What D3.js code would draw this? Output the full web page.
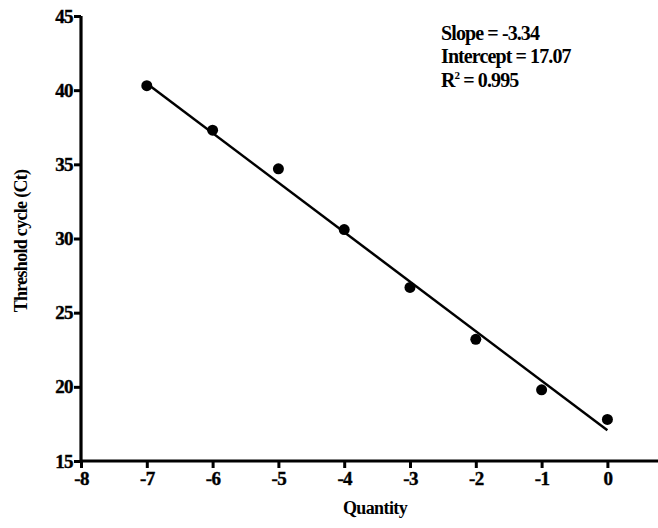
<!DOCTYPE html>
<html><head><meta charset="utf-8">
<script src="https://cdn.jsdelivr.net/npm/d3@7"></script>
<style>body{margin:0;background:#fff}svg{display:block}text{font-family:"Liberation Serif","Times New Roman",serif;font-weight:bold;fill:#000}</style>
</head><body>
<script>
const quantity = [-7, -6, -5, -4, -3, -2, -1, 0];
const ct = [40.3, 37.3, 34.7, 30.6, 26.7, 23.2, 19.8, 17.8];
const xTicks = [-8, -7, -6, -5, -4, -3, -2, -1, 0];
const yTicks = [15, 20, 25, 30, 35, 40, 45];
const slope = -3.34, intercept = 17.07, r2 = 0.995;
const fitRange = [-7, 0];

const W = 658, H = 528;
const svg = d3.select("body").append("svg").attr("width", W).attr("height", H);
const x = d3.scaleLinear().domain([-8, 1]).range([81, 81 + 9 * 65.8]);
const y = d3.scaleLinear().domain([15, 45]).range([461, 16]);

const gx = svg.append("g").attr("transform", `translate(0,${y(15)})`)
  .call(d3.axisBottom(x).tickValues(xTicks).tickFormat(d => String(d)).tickSize(7).tickPadding(4));
const gy = svg.append("g").attr("transform", `translate(${x(-8)},0)`)
  .call(d3.axisLeft(y).tickValues(yTicks).tickFormat(d => String(d)).tickSize(7).tickPadding(1));
[gx, gy].forEach(g => {
  g.select(".domain").attr("stroke", "#000").attr("stroke-width", 3.2);
  g.selectAll(".tick line").attr("stroke", "#000").attr("stroke-width", 3);
  g.selectAll(".tick text").style("font-size", "19px").style("font-weight", "bold")
    .style("letter-spacing", "-0.6px").style("stroke", "#000").style("stroke-width", "0.4px");
});
gx.select(".domain").attr("d", `M${x(-8)},0H${W}`);
gy.select(".domain").attr("d", `M0,${y(45)}V${y(15)}`);

svg.append("line")
  .attr("x1", x(fitRange[0])).attr("y1", y(intercept + slope * fitRange[0]))
  .attr("x2", x(fitRange[1])).attr("y2", y(intercept + slope * fitRange[1]))
  .attr("stroke", "#000").attr("stroke-width", 2.5);

svg.selectAll("circle.pt").data(quantity).enter().append("circle")
  .attr("cx", d => x(d)).attr("cy", (d, i) => y(ct[i])).attr("r", 5.5).attr("fill", "#000");

const annStyle = s => s.style("font-size", "20px").style("letter-spacing", "-0.9px");
annStyle(svg.append("text").attr("x", 441).attr("y", 40).text(`Slope = ${slope}`));
annStyle(svg.append("text").attr("x", 441).attr("y", 63).text(`Intercept = ${intercept}`));
const t3 = annStyle(svg.append("text").attr("x", 441).attr("y", 87));
t3.append("tspan").text("R");
t3.append("tspan").style("font-size", "11px").attr("dy", -8).text("2");
t3.append("tspan").attr("dy", 8).text(` = ${r2}`);

svg.append("text").attr("x", 375).attr("y", 514).attr("text-anchor", "middle")
  .style("font-size", "18px").style("letter-spacing", "-0.6px").text("Quantity");
svg.append("text").attr("transform", "translate(27,241) rotate(-90)").attr("text-anchor", "middle")
  .style("font-size", "18px").style("letter-spacing", "-0.7px").text("Threshold cycle (Ct)");
</script>
</body></html>
